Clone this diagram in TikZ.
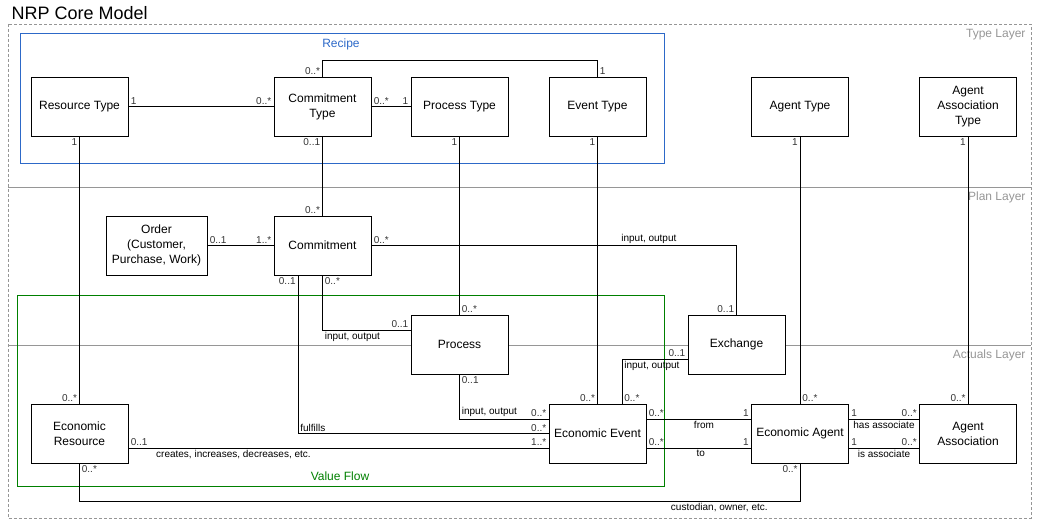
\documentclass[tikz,border=0pt]{standalone}
\usepackage{fontspec}
\setmainfont{Liberation Sans}
\usetikzlibrary{positioning}

\definecolor{recipeblue}{RGB}{45,105,200}
\definecolor{flowgreen}{RGB}{0,128,0}
\definecolor{layergray}{RGB}{150,150,150}

\begin{document}
\begin{tikzpicture}[x=1pt, y=-1pt, on grid,
    cls/.style={draw, fill=white, line width=0.8pt, minimum width=97pt, minimum height=59pt,
        align=center, inner sep=2pt, font=\fontsize{12}{15}\selectfont},
    mult/.style={inner sep=2pt, text=black!80, font=\fontsize{10}{11}\selectfont},
    role/.style={inner sep=2pt, font=\fontsize{10}{11}\selectfont},
    assoc/.style={line width=0.8pt},
    layerline/.style={draw=layergray, line width=0.8pt},
    layername/.style={anchor=east, text=layergray, font=\fontsize{12}{14}\selectfont},
    frame/.style={line width=0.8pt}]

    \useasboundingbox (0,0) rectangle (1041,527);

    \node[anchor=west, font=\fontsize{18}{20}\selectfont] (title) at (8,13) {NRP Core Model};

    % layers
    \draw[draw=layergray, line width=0.8pt, dash pattern=on 3pt off 2pt] (8,24) rectangle (1031,518);
    \draw[layerline] (8,187) -- (1031,187);
    \draw[layerline] (8,345) -- (1031,345);
    \node[layername] (typelayer) at (1029,35) {Type Layer};
    \node[layername] (planlayer) at (1029,197) {Plan Layer};
    \node[layername] (actualslayer) at (1029,355) {Actuals Layer};

    % recipe and value flow
    \draw[frame, draw=recipeblue] (20,33) rectangle (664,163);
    \node[text=recipeblue, font=\fontsize{12}{14}\selectfont] (recipe) at (341,44) {Recipe};
    \draw[frame, draw=flowgreen] (17,295) rectangle (664,486);
    \node[text=flowgreen, font=\fontsize{12}{14}\selectfont] (valueflow) at (340,476) {Value Flow};

    % type layer
    \node[cls] (rtype) at (79.5,106.5) {Resource Type};
    \node[cls, right=243pt of rtype] (ctype) {Commitment\\Type};
    \node[cls, right=137pt of ctype] (ptype) {Process Type};
    \node[cls, right=138pt of ptype] (etype) {Event Type};
    \node[cls, right=202.5pt of etype] (atype) {Agent Type};
    \node[cls, right=168pt of atype] (aatype) {Agent\\Association\\Type};

    % plan layer
    \node[cls, below=139pt of ctype] (commit) {Commitment};
    \node[cls, minimum width=101pt, left=166pt of commit] (order) {Order\\(Customer,\\Purchase, Work)};
    \node[cls, below=238pt of ptype] (process) {Process};
    \node[cls, right=277pt of process] (exchange) {Exchange};

    % actuals layer
    \node[cls, below=327pt of rtype] (eres) {Economic\\Resource};
    \node[cls, below=327pt of etype] (eevent) {Economic Event};
    \node[cls, below=327pt of atype] (eagent) {Economic Agent};
    \node[cls, below=327pt of aatype] (aassoc) {Agent\\Association};

    \coordinate (recipetop) at (0,60);
    \coordinate (ownerline) at (0,501);

    \draw[assoc] (rtype.east) -- node[mult, pos=0, above right] {1} node[mult, pos=1, above left] {0..*} (ctype.west);
    \draw[assoc] (ctype.north) -- node[mult, pos=0, above left] {0..*} (ctype.north |- recipetop)
        -| node[mult, pos=1, above right] {1} (etype.north);
    \draw[assoc] (ctype.east) -- node[mult, pos=0, above right] {0..*} node[mult, pos=1, above left] {1} (ptype.west);

    \draw[assoc] (rtype.south) -- node[mult, pos=0, below left] {1} node[mult, pos=1, above left] {0..*} (eres.north);
    \draw[assoc] (ctype.south) -- node[mult, pos=0, below left] {0..1} node[mult, pos=1, above left] {0..*} (commit.north);
    \draw[assoc] (ptype.south) -- node[mult, pos=0, below left] {1} node[mult, pos=1, above right] {0..*} (process.north);
    \draw[assoc] (etype.south) -- node[mult, pos=0, below left] {1} node[mult, pos=1, above left] {0..*} (eevent.north);
    \draw[assoc] (atype.south) -- node[mult, pos=0, below left] {1} node[mult, pos=1, above right] {0..*} (eagent.north);
    \draw[assoc] (aatype.south) -- node[mult, pos=0, below left] {1} node[mult, pos=1, above left] {0..*} (aassoc.north);

    \draw[assoc] (order.east) -- node[mult, pos=0, above right] {0..1} node[mult, pos=1, above left] {1..*} (commit.west);
    \draw[assoc] (commit.east) -| node[mult, pos=0, above right] {0..*} node[role, pos=0.38, above] {input, output}
        node[mult, pos=1, above left] {0..1} (exchange.north);
    \draw[assoc] (commit.south) |- node[mult, pos=0, below right] {0..*} node[role, pos=0.5, below right] {input, output}
        node[mult, pos=1, above left] {0..1} ([yshift=14.5pt]process.west);
    \draw[assoc] ([xshift=-24.5pt]commit.south) |- node[mult, pos=0, below left] {0..1} node[role, pos=0.5, above right] {fulfills}
        node[mult, pos=1, above left] {0..*} (eevent.west);
    \draw[assoc] (process.south) |- node[mult, pos=0, below right] {0..1} node[role, pos=0.5, above right] {input, output}
        node[mult, pos=1, above left] {0..*} ([yshift=14.5pt]eevent.west);
    \draw[assoc] ([yshift=-14.5pt]exchange.west) -| node[mult, pos=0, above left] {0..1} node[role, pos=0.5, below right] {input, output}
        node[mult, pos=1, above right] {0..*} ([xshift=24.5pt]eevent.north);

    \draw[assoc] ([yshift=-14.5pt]eres.east) -- node[mult, pos=0, above right] {0..1}
        node[role, pos=0.25, below] {creates, increases, decreases, etc.}
        node[mult, pos=1, above left] {1..*} ([yshift=-14.5pt]eevent.west);
    \draw[assoc] ([yshift=14.5pt]eevent.east) -- node[mult, pos=0, above right] {0..*} node[role, pos=0.55, below] {from}
        node[mult, pos=1, above left] {1} ([yshift=14.5pt]eagent.west);
    \draw[assoc] ([yshift=-14.5pt]eevent.east) -- node[mult, pos=0, above right] {0..*} node[role, pos=0.52, below] {to}
        node[mult, pos=1, above left] {1} ([yshift=-14.5pt]eagent.west);
    \draw[assoc] ([yshift=14.5pt]eagent.east) -- node[mult, pos=0, above right] {1} node[role, pos=0.5, below] {has associate}
        node[mult, pos=1, above left] {0..*} ([yshift=14.5pt]aassoc.west);
    \draw[assoc] ([yshift=-14.5pt]eagent.east) -- node[mult, pos=0, above right] {1} node[role, pos=0.5, below] {is associate}
        node[mult, pos=1, above left] {0..*} ([yshift=-14.5pt]aassoc.west);
    \draw[assoc] (eres.south) -- node[mult, pos=0, below right] {0..*} (eres.south |- ownerline)
        -| node[role, pos=0.444, below] {custodian, owner, etc.} node[mult, pos=1, below left] {0..*} (eagent.south);
\end{tikzpicture}
\end{document}
